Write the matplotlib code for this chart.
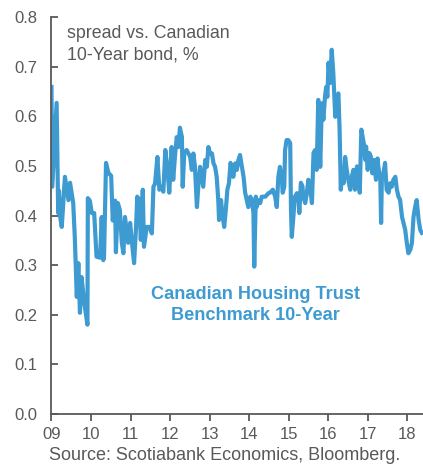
import matplotlib
matplotlib.use('Agg')
import matplotlib.pyplot as plt

plt.rcParams['font.family'] = ['Liberation Sans', 'DejaVu Sans']

# 数据：年份(小数) 与 利差(%)
years = [
    2009.00, 2009.02, 2009.13, 2009.17, 2009.19, 2009.22, 2009.26, 2009.34, 2009.43, 2009.47,
    2009.55, 2009.59, 2009.64, 2009.68, 2009.72, 2009.76, 2009.83, 2009.91, 2009.92, 2009.97,
    2010.02, 2010.08, 2010.14, 2010.23, 2010.27, 2010.31, 2010.33, 2010.38, 2010.44, 2010.51,
    2010.55, 2010.61, 2010.63, 2010.68, 2010.73, 2010.78, 2010.82, 2010.86, 2010.90, 2010.94,
    2010.99, 2011.03, 2011.09, 2011.14, 2011.17, 2011.22, 2011.26, 2011.31, 2011.34, 2011.41,
    2011.48, 2011.54, 2011.58, 2011.62, 2011.68, 2011.73, 2011.79, 2011.83, 2011.88, 2011.93,
    2011.98, 2012.04, 2012.08, 2012.13, 2012.17, 2012.21, 2012.25, 2012.30, 2012.32, 2012.36,
    2012.42, 2012.51, 2012.55, 2012.59, 2012.63, 2012.68, 2012.72, 2012.76, 2012.80, 2012.84,
    2012.89, 2012.93, 2012.97, 2013.01, 2013.06, 2013.10, 2013.14, 2013.18, 2013.22, 2013.24,
    2013.29, 2013.32, 2013.37, 2013.41, 2013.45, 2013.49, 2013.53, 2013.56, 2013.60, 2013.65,
    2013.69, 2013.73, 2013.77, 2013.82, 2013.86, 2013.90, 2013.94, 2013.98, 2014.03, 2014.07,
    2014.11, 2014.13, 2014.17, 2014.19, 2014.24, 2014.28, 2014.32, 2014.41, 2014.49, 2014.53,
    2014.60, 2014.66, 2014.70, 2014.74, 2014.78, 2014.83, 2014.85, 2014.89, 2014.91, 2014.95,
    2014.99, 2015.04, 2015.06, 2015.08, 2015.12, 2015.16, 2015.21, 2015.25, 2015.27, 2015.31,
    2015.35, 2015.37, 2015.42, 2015.46, 2015.50, 2015.54, 2015.59, 2015.63, 2015.67, 2015.71,
    2015.75, 2015.80, 2015.84, 2015.88, 2015.92, 2015.95, 2015.98, 2016.01, 2016.05, 2016.09,
    2016.13, 2016.18, 2016.22, 2016.26, 2016.29, 2016.32, 2016.36, 2016.39, 2016.43, 2016.47,
    2016.51, 2016.56, 2016.60, 2016.64, 2016.68, 2016.73, 2016.77, 2016.80, 2016.84, 2016.87,
    2016.90, 2016.94, 2016.96, 2017.00, 2017.04, 2017.08, 2017.12, 2017.16, 2017.21, 2017.25,
    2017.27, 2017.32, 2017.34, 2017.36, 2017.40, 2017.44, 2017.48, 2017.53, 2017.57, 2017.61,
    2017.65, 2017.70, 2017.74, 2017.78, 2017.82, 2017.87, 2017.91, 2017.95, 2017.99, 2018.03,
    2018.08, 2018.12, 2018.16, 2018.20, 2018.24, 2018.29, 2018.33, 2018.37,
]
spread = [
    0.659, 0.458, 0.627, 0.405, 0.450, 0.397, 0.377, 0.478, 0.431, 0.466,
    0.425, 0.357, 0.236, 0.304, 0.204, 0.276, 0.224, 0.180, 0.435, 0.430,
    0.405, 0.405, 0.317, 0.315, 0.397, 0.310, 0.318, 0.506, 0.486, 0.480,
    0.390, 0.430, 0.326, 0.425, 0.411, 0.345, 0.324, 0.397, 0.371, 0.345,
    0.385, 0.351, 0.304, 0.377, 0.438, 0.432, 0.351, 0.452, 0.337, 0.377,
    0.377, 0.364, 0.458, 0.464, 0.518, 0.452, 0.458, 0.448, 0.532, 0.498,
    0.446, 0.538, 0.472, 0.525, 0.558, 0.538, 0.577, 0.558, 0.458, 0.526,
    0.532, 0.518, 0.492, 0.525, 0.498, 0.417, 0.465, 0.498, 0.478, 0.458,
    0.512, 0.498, 0.538, 0.525, 0.525, 0.505, 0.498, 0.478, 0.431, 0.391,
    0.431, 0.405, 0.377, 0.411, 0.452, 0.465, 0.506, 0.498, 0.478, 0.505,
    0.492, 0.512, 0.522, 0.498, 0.478, 0.446, 0.431, 0.417, 0.438, 0.431,
    0.405, 0.297, 0.438, 0.417, 0.431, 0.425, 0.438, 0.438, 0.445, 0.446,
    0.452, 0.438, 0.417, 0.478, 0.498, 0.472, 0.446, 0.458, 0.532, 0.552,
    0.552, 0.546, 0.411, 0.357, 0.397, 0.438, 0.445, 0.438, 0.405, 0.466,
    0.459, 0.438, 0.425, 0.445, 0.472, 0.458, 0.425, 0.526, 0.532, 0.492,
    0.633, 0.498, 0.626, 0.593, 0.639, 0.659, 0.639, 0.708, 0.667, 0.734,
    0.688, 0.599, 0.639, 0.646, 0.573, 0.452, 0.492, 0.465, 0.518, 0.492,
    0.472, 0.452, 0.479, 0.492, 0.452, 0.499, 0.485, 0.446, 0.573, 0.559,
    0.546, 0.512, 0.539, 0.492, 0.526, 0.519, 0.485, 0.512, 0.472, 0.515,
    0.499, 0.472, 0.385, 0.479, 0.485, 0.506, 0.452, 0.446, 0.465, 0.458,
    0.472, 0.478, 0.452, 0.438, 0.432, 0.397, 0.384, 0.371, 0.345, 0.324,
    0.331, 0.345, 0.397, 0.417, 0.431, 0.391, 0.371, 0.365,
]
year_ticks = [2009, 2010, 2011, 2012, 2013, 2014, 2015, 2016, 2017, 2018]
year_labels = ['09', '10', '11', '12', '13', '14', '15', '16', '17', '18']
y_ticks = [0.0, 0.1, 0.2, 0.3, 0.4, 0.5, 0.6, 0.7, 0.8]

blue = '#3d9bd1'
grey = '#595959'

fig = plt.figure(figsize=(4.23, 4.70), dpi=100)
ax = fig.add_axes([0.1217, 0.1191, 0.8783, 0.8447])

ax.plot(years, spread, color=blue, linewidth=3.0, solid_joinstyle='round')

ax.set_xlim(2009, 2018.40)
ax.set_ylim(0, 0.8)
ax.set_xticks(year_ticks)
ax.set_xticklabels(year_labels)
ax.set_yticks(y_ticks)
ax.set_yticklabels(['%.1f' % v for v in y_ticks])

for s in ['top', 'right']:
    ax.spines[s].set_visible(False)
for s in ['left', 'bottom']:
    ax.spines[s].set_color(grey)
    ax.spines[s].set_linewidth(1.3)

ax.tick_params(axis='y', direction='in', length=5, width=1.3, color=grey,
               labelcolor=grey, labelsize=12, pad=10)
ax.tick_params(axis='x', direction='out', length=5, width=1.3, color=grey,
               labelcolor=grey, labelsize=12, pad=4)

# 注释文字
fig.text(67 / 423, 1 - 25 / 470, 'spread vs. Canadian\n10-Year bond, %',
         ha='left', va='top', fontsize=12.8, color=grey, linespacing=1.33)
ax.text(0.550, 0.275, 'Canadian Housing Trust\nBenchmark 10-Year',
        transform=ax.transAxes, ha='center', va='center', fontsize=13.1,
        fontweight='bold', color=blue, linespacing=1.3)
fig.text(225 / 423, 1 - 455 / 470, 'Source: Scotiabank Economics, Bloomberg.',
         ha='center', va='center', fontsize=13, color=grey)

fig.savefig('out.png', dpi=100)
